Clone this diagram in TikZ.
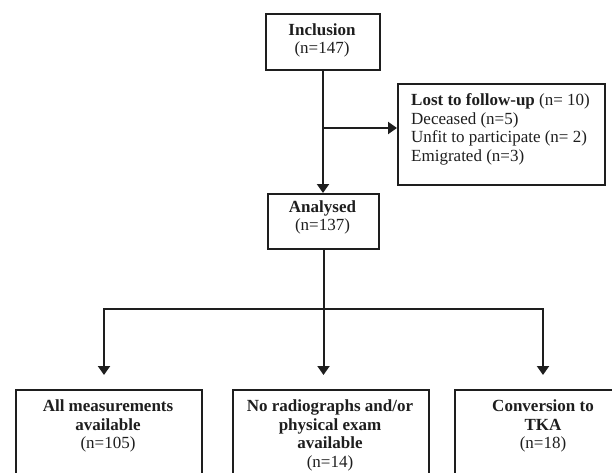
\documentclass[tikz,border=0pt]{standalone}
\usepackage{fontspec}
\setmainfont{Liberation Serif}
\usetikzlibrary{arrows.meta}
\definecolor{ink}{RGB}{30,30,30}
\begin{document}
\begin{tikzpicture}[x=1pt,y=-1pt,
  box/.style={draw=ink,line width=2pt,inner sep=0pt,anchor=north west},
  txt/.style={inner sep=0pt,anchor=north,align=center,text=ink,font=\fontsize{17}{18.5}\selectfont},
  ln/.style={draw=ink,line width=2pt},
  arr/.style={ln,-{Triangle[width=12pt,length=9pt]}}]
\useasboundingbox (0,0) rectangle (612,473);
\clip (0,0) rectangle (612,473);
% boxes
\node[box,minimum width=114pt,minimum height=56pt] (incl) at (265,13) {};
\node[box,minimum width=207pt,minimum height=101pt] (lost) at (397,83) {};
\node[box,minimum width=111pt,minimum height=55pt] (anal) at (267,193) {};
\node[box,minimum width=186pt,minimum height=120pt] (b1) at (15,389) {};
\node[box,minimum width=196pt,minimum height=120pt] (b2) at (232,389) {};
\node[box,minimum width=178pt,minimum height=120pt] (b3) at (454,389) {};
% texts
\node[txt] (inclT) at (322,23.5) {\textbf{Inclusion}\\(n=147)};
\node[txt,anchor=north west,align=left] (lostT) at (411,93.5)
  {\textbf{Lost to follow-up} (n= 10)\\Deceased (n=5)\\Unfit to participate (n= 2)\\Emigrated (n=3)};
\node[txt] (analT) at (322.5,200.5) {\textbf{Analysed}\\(n=137)};
\node[txt] (b1T) at (108,399.5) {\textbf{All measurements}\\\textbf{available}\\(n=105)};
\node[txt] (b2T) at (330,399.5) {\textbf{No radiographs and/or}\\\textbf{physical exam}\\\textbf{available}\\(n=14)};
\node[txt] (b3T) at (543,399.5) {\textbf{Conversion to}\\\textbf{TKA}\\(n=18)};
% connectors
\draw[arr] (incl.south) -- (incl.south |- anal.north);
\coordinate (j1) at (322,128);
\draw[arr] (j1) -- (j1 -| lost.west);
\coordinate (j2) at (323.5,309);
\coordinate (hl) at (104,309);
\coordinate (hr) at (543,309);
\draw[ln] (anal.south -| j2) -- (j2);
\draw[arr,shorten >=14pt] (j2) -| (hl |- b1.north);
\draw[arr,shorten >=14pt] (j2) -| (hr |- b3.north);
\draw[arr,shorten >=14pt] (j2) -- (j2 |- b2.north);
\end{tikzpicture}
\end{document}
